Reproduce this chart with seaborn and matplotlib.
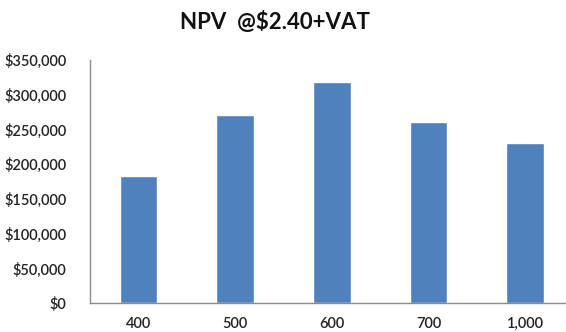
import matplotlib
matplotlib.use('Agg')
import matplotlib.pyplot as plt
import seaborn as sns
import pandas as pd
from matplotlib.ticker import FuncFormatter

# values
categories = ['400', '500', '600', '700', '1,000']
npv_values = [183000, 271000, 318000, 261000, 231000]

df = pd.DataFrame({'Volume': categories, 'NPV': npv_values})

sns.set_theme(style='white')
plt.rcParams['font.family'] = ['Lato', 'DejaVu Sans']

fig = plt.figure(figsize=(5.66, 3.32), dpi=100)
ax = fig.add_axes([0.159, 0.0873, 0.841, 0.7317])

sns.barplot(data=df, x='Volume', y='NPV', color='#4F81BD', saturation=1,
            width=0.39, ax=ax)

ax.set_ylim(0, 350000)
ax.set_xlim(-0.5, 4.42)
ax.set_yticks(range(0, 350001, 50000))
ax.yaxis.set_major_formatter(FuncFormatter(lambda v, p: f'${v:,.0f}'))
ax.set_xlabel('')
ax.set_ylabel('')

for side in ['top', 'right']:
    ax.spines[side].set_visible(False)
for side in ['left', 'bottom']:
    ax.spines[side].set_color('#8c8c8c')
    ax.spines[side].set_linewidth(1.0)

ax.tick_params(axis='y', length=0, pad=17, labelsize=10.5, labelcolor='#222222')
ax.tick_params(axis='x', length=0, pad=10, labelsize=10.5, labelcolor='#222222')
for lbl in ax.get_xticklabels() + ax.get_yticklabels():
    lbl.set_fontweight('semibold')

fig.text(0.485, 0.935, 'NPV  @$2.40+VAT', ha='center', va='center',
         fontsize=16, fontweight='bold', color='#111111')

fig.savefig('out.png', dpi=100)
